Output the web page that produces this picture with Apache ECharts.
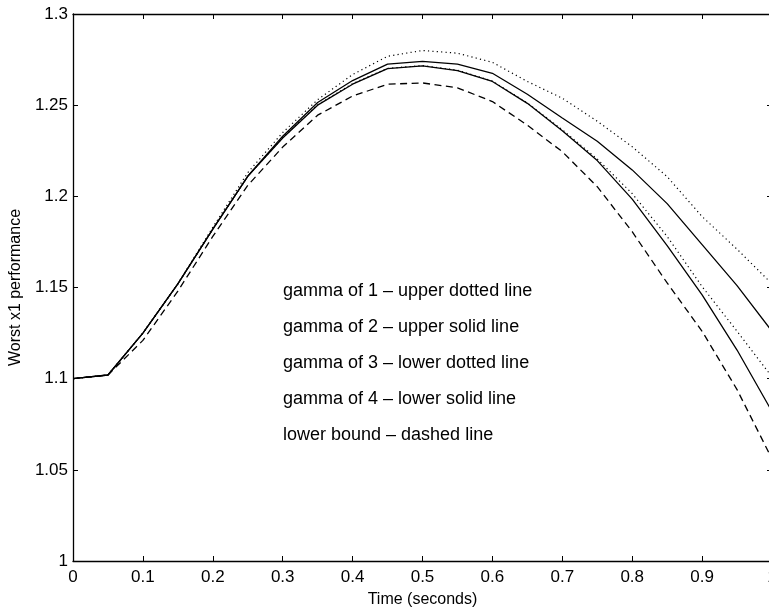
<!DOCTYPE html>
<html>
<head>
<meta charset="utf-8">
<script src="https://cdn.jsdelivr.net/npm/echarts@6/dist/echarts.min.js"></script>
<style>
html,body{margin:0;padding:0;background:#fff;}
#chart{width:769px;height:613px;}
</style>
</head>
<body>
<div id="chart"></div>
<script>
// Time samples (seconds)
const times = [0, 0.05, 0.1, 0.15, 0.2, 0.25, 0.3, 0.35, 0.4, 0.45, 0.5, 0.55, 0.6, 0.65, 0.7, 0.75, 0.8, 0.85, 0.9, 0.95, 1.0];
// gamma of 1 - upper dotted line
const gamma1 = [1.100, 1.102, 1.125, 1.152, 1.183, 1.213, 1.235, 1.253, 1.2668, 1.2768, 1.2800, 1.2785, 1.2735, 1.2630, 1.2538, 1.2412, 1.2272, 1.2108, 1.1889, 1.1710, 1.1520];
// gamma of 2 - upper solid line
const gamma2 = [1.100, 1.102, 1.125, 1.152, 1.182, 1.211, 1.233, 1.2515, 1.2635, 1.2725, 1.2740, 1.2725, 1.2675, 1.2560, 1.2430, 1.2302, 1.2145, 1.1960, 1.1735, 1.1510, 1.1260];
// gamma of 3 - lower dotted line
const gamma3 = [1.100, 1.102, 1.125, 1.152, 1.182, 1.211, 1.2322, 1.2502, 1.2618, 1.2702, 1.2717, 1.2692, 1.2632, 1.2512, 1.2365, 1.2205, 1.2015, 1.1780, 1.1505, 1.1260, 1.1010];
// gamma of 4 - lower solid line
const gamma4 = [1.100, 1.102, 1.125, 1.152, 1.182, 1.211, 1.232, 1.250, 1.2615, 1.2700, 1.2715, 1.2690, 1.2630, 1.2510, 1.2360, 1.2196, 1.1985, 1.1730, 1.1460, 1.1157, 1.0820];
// lower bound - dashed line
const lowerBound = [1.100, 1.102, 1.121, 1.148, 1.178, 1.206, 1.227, 1.2445, 1.255, 1.2615, 1.2622, 1.2595, 1.2520, 1.2390, 1.2245, 1.2053, 1.1806, 1.1525, 1.1260, 1.0940, 1.0560];
// x tick labels / y tick labels
const xTicks = [0, 0.1, 0.2, 0.3, 0.4, 0.5, 0.6, 0.7, 0.8, 0.9, 1];
const yTicks = [1, 1.05, 1.1, 1.15, 1.2, 1.25, 1.3];
const notes = [
  'gamma of 1 \u2013 upper dotted line',
  'gamma of 2 \u2013 upper solid line',
  'gamma of 3 \u2013 lower dotted line',
  'gamma of 4 \u2013 lower solid line',
  'lower bound \u2013 dashed line'
];

const pair = arr => times.map((t, i) => [t, arr[i]]);
const FONT = 'Liberation Sans, Arial, Helvetica, sans-serif';

const chart = echarts.init(document.getElementById('chart'), null, {renderer: 'canvas'});

function fmtX(v) {
  const r = Math.round(v * 10) / 10;
  return xTicks.includes(r) ? String(r) : '';
}
function fmtY(v) {
  const r = Math.round(v * 100) / 100;
  return yTicks.includes(r) ? String(r) : '';
}

const lineBase = {type: 'line', showSymbol: false, symbol: 'none', animation: false, silent: true};

chart.setOption({
  backgroundColor: '#fff',
  animation: false,
  grid: {left: 73, top: 14, right: -3, bottom: 52, containLabel: false, outerBoundsMode: 'none'},
  xAxis: [{
    type: 'value', min: 0, max: 1, interval: 0.1, position: 'bottom',
    name: 'Time (seconds)', nameLocation: 'middle', nameGap: 31,
    nameTextStyle: {color: '#000', fontFamily: FONT, fontSize: 16},
    axisLine: {show: true, lineStyle: {color: '#000', width: 1.3}},
    axisTick: {show: true, inside: true, length: 5, lineStyle: {color: '#000'}},
    axisLabel: {color: '#000', fontFamily: FONT, fontSize: 17, margin: 8, formatter: fmtX},
    splitLine: {show: false}
  }, {
    type: 'value', min: 0, max: 1, interval: 0.1, position: 'top',
    axisLine: {show: true, onZero: false, lineStyle: {color: '#000', width: 1.3}},
    axisTick: {show: true, inside: true, length: 5, lineStyle: {color: '#000'}},
    axisLabel: {show: false},
    splitLine: {show: false}
  }],
  yAxis: [{
    type: 'value', min: 1, max: 1.3, interval: 0.05, position: 'left',
    name: 'Worst x1 performance', nameLocation: 'middle', nameGap: 41, nameRotate: 90,
    nameTextStyle: {color: '#000', fontFamily: FONT, fontSize: 16},
    axisLine: {show: true, onZero: false, lineStyle: {color: '#000', width: 1.3}},
    axisTick: {show: true, inside: true, length: 5, lineStyle: {color: '#000'}},
    axisLabel: {color: '#000', fontFamily: FONT, fontSize: 17, margin: 5, formatter: fmtY},
    splitLine: {show: false}
  }, {
    type: 'value', min: 1, max: 1.3, interval: 0.05, position: 'right',
    axisLine: {show: true, onZero: false, lineStyle: {color: '#000', width: 1.3}},
    axisTick: {show: true, inside: true, length: 5, lineStyle: {color: '#000'}},
    axisLabel: {show: false},
    splitLine: {show: false}
  }],
  series: [
    Object.assign({}, lineBase, {name: 'gamma 1', data: pair(gamma1), lineStyle: {color: '#000', width: 1.2, type: [1.2, 3.2]}}),
    Object.assign({}, lineBase, {name: 'gamma 2', data: pair(gamma2), lineStyle: {color: '#000', width: 1.3, type: 'solid'}}),
    Object.assign({}, lineBase, {name: 'gamma 3', data: pair(gamma3), lineStyle: {color: '#000', width: 1.2, type: [1.2, 3.2]}}),
    Object.assign({}, lineBase, {name: 'gamma 4', data: pair(gamma4), lineStyle: {color: '#000', width: 1.3, type: 'solid'}}),
    Object.assign({}, lineBase, {name: 'lower bound', data: pair(lowerBound), lineStyle: {color: '#000', width: 1.3, type: [7, 4.5]}})
  ],
  graphic: notes.map((txt, i) => ({
    type: 'text', left: 283, top: 282 + i * 36, silent: true,
    style: {text: txt, fill: '#000', font: '18px ' + FONT}
  }))
});
</script>
</body>
</html>
